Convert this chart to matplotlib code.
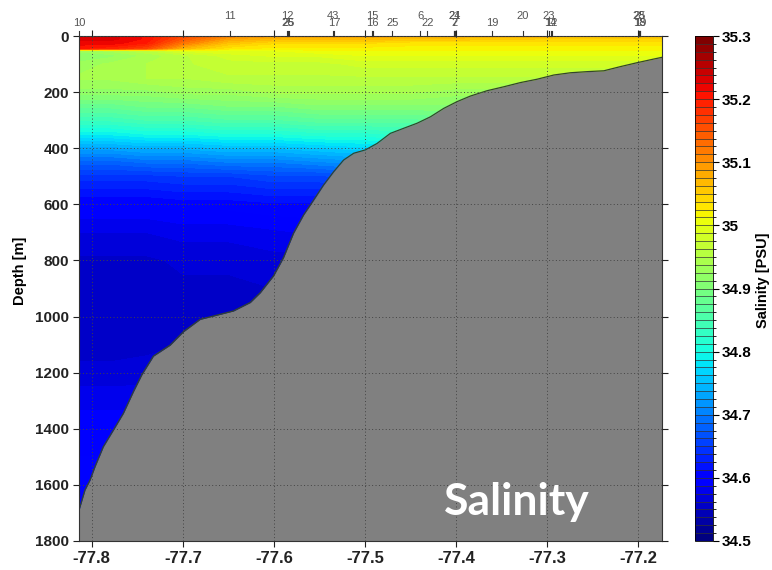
import numpy as np
import matplotlib
matplotlib.use("Agg")
import matplotlib.pyplot as plt
from matplotlib.colors import ListedColormap, BoundaryNorm
import matplotlib.cm as mcm
import matplotlib.transforms as mtransforms

plt.rcParams['axes.unicode_minus'] = False
plt.rcParams['font.family'] = ['Liberation Sans', 'DejaVu Sans']

# ---------------- data ----------------
lons = [-77.814, -77.78, -77.74, -77.70, -77.65, -77.60, -77.55, -77.50, -77.45, -77.40, -77.30, -77.174]
depths = [0, 10, 25, 45, 53, 70, 100, 150, 200, 250, 300, 350, 400, 450, 500,
          600, 700, 800, 1000, 1200, 1300, 1400, 1500, 1600, 1800]
salinity = [
    [35.23, 35.23, 35.21, 35.16, 35.11, 35.09, 35.08, 35.08, 35.08, 35.07, 35.07, 35.06],
    [35.23, 35.23, 35.21, 35.15, 35.09, 35.07, 35.07, 35.07, 35.06, 35.06, 35.05, 35.05],
    [35.22, 35.22, 35.20, 35.12, 35.06, 35.04, 35.04, 35.04, 35.03, 35.03, 35.03, 35.03],
    [35.20, 35.19, 35.16, 35.07, 35.03, 35.02, 35.02, 35.02, 35.02, 35.02, 35.02, 35.02],
    [34.93, 34.94, 34.96, 34.99, 35.00, 35.00, 35.01, 35.01, 35.01, 35.01, 35.01, 35.01],
    [34.91, 34.92, 34.94, 34.96, 34.98, 34.99, 34.99, 35.00, 35.00, 35.00, 35.00, 35.00],
    [34.93, 34.94, 34.95, 34.96, 34.97, 34.97, 34.97, 34.98, 34.98, 34.98, 34.98, 34.98],
    [34.94, 34.94, 34.95, 34.95, 34.96, 34.96, 34.96, 34.96, 34.96, 34.96, 34.96, 34.96],
    [34.92, 34.92, 34.92, 34.93, 34.93, 34.94, 34.94, 34.94, 34.94, 34.93, 34.93, 34.93],
    [34.88, 34.88, 34.89, 34.89, 34.90, 34.90, 34.91, 34.91, 34.91, 34.91, 34.91, 34.91],
    [34.84, 34.84, 34.85, 34.85, 34.86, 34.86, 34.87, 34.87, 34.87, 34.88, 34.88, 34.88],
    [34.79, 34.79, 34.80, 34.80, 34.81, 34.81, 34.82, 34.82, 34.83, 34.83, 34.83, 34.83],
    [34.73, 34.73, 34.74, 34.74, 34.75, 34.75, 34.76, 34.77, 34.78, 34.78, 34.78, 34.78],
    [34.68, 34.68, 34.69, 34.69, 34.70, 34.70, 34.71, 34.72, 34.73, 34.73, 34.73, 34.73],
    [34.645, 34.645, 34.645, 34.65, 34.65, 34.66, 34.66, 34.67, 34.67, 34.67, 34.67, 34.67],
    [34.60, 34.60, 34.60, 34.605, 34.605, 34.61, 34.61, 34.62, 34.62, 34.62, 34.62, 34.62],
    [34.575, 34.575, 34.575, 34.58, 34.58, 34.585, 34.59, 34.59, 34.59, 34.59, 34.59, 34.59],
    [34.56, 34.56, 34.56, 34.565, 34.565, 34.57, 34.57, 34.57, 34.57, 34.57, 34.57, 34.57],
    [34.552, 34.552, 34.552, 34.555, 34.555, 34.555, 34.555, 34.555, 34.555, 34.555, 34.555, 34.555],
    [34.565, 34.565, 34.567, 34.57, 34.57, 34.57, 34.57, 34.57, 34.57, 34.57, 34.57, 34.57],
    [34.585, 34.585, 34.585, 34.585, 34.585, 34.585, 34.585, 34.585, 34.585, 34.585, 34.585, 34.585],
    [34.592, 34.592, 34.592, 34.592, 34.592, 34.592, 34.592, 34.592, 34.592, 34.592, 34.592, 34.592],
    [34.60, 34.60, 34.60, 34.60, 34.60, 34.60, 34.60, 34.60, 34.60, 34.60, 34.60, 34.60],
    [34.607, 34.607, 34.607, 34.607, 34.607, 34.607, 34.607, 34.607, 34.607, 34.607, 34.607, 34.607],
    [34.612, 34.612, 34.612, 34.612, 34.612, 34.612, 34.612, 34.612, 34.612, 34.612, 34.612, 34.612],
]

seabed_lon = [-77.8140, -77.8074, -77.8019, -77.7964, -77.7873, -77.7763, -77.7653, -77.7543,
              -77.7451, -77.7323, -77.7140, -77.6993, -77.6810, -77.6626, -77.6444, -77.6260,
              -77.6150, -77.6004, -77.5895, -77.5785, -77.5675, -77.5565, -77.5455, -77.5345,
              -77.5235, -77.5125, -77.4997, -77.4868, -77.4722, -77.4576, -77.4429, -77.4282,
              -77.4136, -77.3990, -77.3843, -77.3660, -77.3477, -77.3294, -77.3110, -77.2927,
              -77.2744, -77.2560, -77.2378, -77.2195, -77.2011, -77.1828, -77.1740]
seabed_depth = [1690, 1618, 1583, 1535, 1464, 1405, 1345, 1268,
                1208, 1141, 1102, 1054, 1010, 995, 980, 950,
                915, 855, 790, 703, 638, 585, 531, 484,
                442, 418, 406, 383, 347, 329, 311, 288,
                258, 234, 214, 195, 181, 166, 154, 139,
                131, 127, 124, 109, 95, 82, 76]

station_ids = ['10', '11', '12', '26', '25', '43', '17', '15', '16', '25', '6', '22',
               '24', '21', '2', '7', '19', '20', '23', '14', '12', '28', '25', '18', '19']
station_lons = [-77.814, -77.648, -77.5854, -77.5845, -77.5838, -77.535, -77.5338, -77.492, -77.4915,
                -77.470, -77.4393, -77.4315, -77.4018, -77.4012, -77.4020, -77.4014, -77.3604,
                -77.327, -77.2985, -77.2962, -77.2950, -77.1995, -77.1990, -77.1985, -77.1980]
station_row = [2, 1, 1, 2, 2, 1, 2, 1, 2, 2, 1, 2, 1, 1, 2, 2, 2, 1, 1, 2, 2, 1, 1, 2, 2]

xticks = [-77.8, -77.7, -77.6, -77.5, -77.4, -77.3, -77.2]
xtick_labels = ['-77.8', '-77.7', '-77.6', '-77.5', '-77.4', '-77.3', '-77.2']
yticks = [0, 200, 400, 600, 800, 1000, 1200, 1400, 1600, 1800]
cticks = [34.5, 34.6, 34.7, 34.8, 34.9, 35.0, 35.1, 35.2, 35.3]
ctick_labels = ['34.5', '34.6', '34.7', '34.8', '34.9', '35', '35.1', '35.2', '35.3']

# ---------------- figure ----------------
W, H = 772, 570
fig = plt.figure(figsize=(W / 100, H / 100), dpi=100)
ax = fig.add_axes([79 / W, 1 - 541 / H, 583 / W, 505 / H])
cax = fig.add_axes([695 / W, 1 - 541 / H, 18 / W, 505 / H])

nlev = 64
levels = np.linspace(34.5, 35.3, nlev + 1)
cmap = ListedColormap(plt.get_cmap('jet')(np.linspace(0, 1, nlev)))
cmap.set_under(cmap(0))
cmap.set_over(cmap(nlev - 1))
norm = BoundaryNorm(levels, nlev)

LON, DEP = np.meshgrid(lons, depths)
cf = ax.contourf(LON, DEP, np.array(salinity), levels=levels, cmap=cmap, norm=norm,
                 extend='both', zorder=1)

ax.fill_between(seabed_lon, seabed_depth, 1900, color='#808080', zorder=2, linewidth=0)
ax.plot(seabed_lon, seabed_depth, color='#34452c', lw=0.9, zorder=2.1)

ax.set_xlim(-77.814, -77.174)
ax.set_ylim(1800, 0)
ax.set_xticks(xticks)
ax.set_xticklabels(xtick_labels, fontweight='bold', fontsize=12,
                   family=['Liberation Sans Narrow', 'Liberation Sans'])
ax.set_yticks(yticks)
ax.set_yticklabels([str(v) for v in yticks], fontweight='bold', fontsize=11)
ax.tick_params(direction='out', length=4, width=0.8, top=True, right=True,
               labeltop=False, labelright=False, pad=3, colors='#222222')
ax.set_axisbelow(False)
ax.grid(True, linestyle=(0, (1, 2.5)), color='#444444', linewidth=0.7)
for s in ax.spines.values():
    s.set_color('#333333')
    s.set_linewidth(0.8)

ax.set_ylabel('Depth [m]', fontweight='bold', fontsize=10.5)
ax.yaxis.set_label_coords((27 - 79) / 583, (541 - 271) / 505)

# station ticks and labels along the top
trans = mtransforms.blended_transform_factory(ax.transData, ax.transAxes)
for sid, slon, row in zip(station_ids, station_lons, station_row):
    ax.plot([slon, slon], [1.0, 1.0 + 5 / 505], transform=trans, color='#333333',
            lw=0.8, clip_on=False, zorder=5)
    off = 14.5 if row == 1 else 9
    ax.annotate(sid, xy=(slon, 1.0), xycoords=trans, xytext=(0, off),
                textcoords='offset points', ha='center', va='center',
                fontsize=8, color='#555555')

ax.text(0.751, 0.0515, 'Salinity', transform=ax.transAxes, color='white',
        fontsize=32, fontweight='bold', family=['Lato', 'DejaVu Sans'],
        ha='center', va='baseline', zorder=6)

sm = mcm.ScalarMappable(norm=norm, cmap=cmap)
cb = fig.colorbar(sm, cax=cax, boundaries=levels, ticks=cticks, drawedges=True)
cb.outline.set_linewidth(0.6)
cb.dividers.set_color('#333333')
cb.dividers.set_linewidth(0.5)
cax.set_yticklabels(ctick_labels, fontweight='bold', fontsize=11)
cax.tick_params(direction='out', length=4, width=0.8, pad=2)
cb.set_label('Salinity [PSU]', fontweight='bold', fontsize=10.5)
cax.yaxis.set_label_coords((756 - 695) / 18, (541 - 280) / 505)

fig.savefig('out.png', dpi=100)
